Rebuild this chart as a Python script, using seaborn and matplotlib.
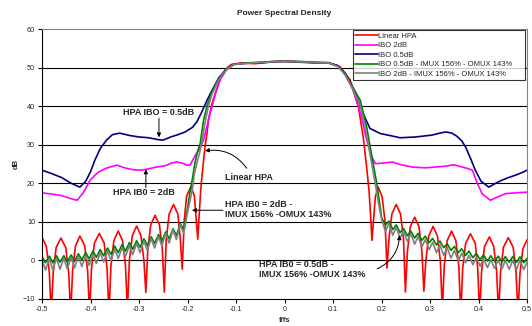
import pandas as pd
import seaborn as sns
import matplotlib.pyplot as plt

# Linear HPA (red) - sinc-like sidelobes
lin_f = [-0.500, -0.491, -0.485, -0.481,
         -0.477, -0.471, -0.461, -0.451, -0.445, -0.441,
         -0.437, -0.431, -0.422, -0.412, -0.406, -0.402,
         -0.398, -0.392, -0.382, -0.372, -0.366, -0.362,
         -0.358, -0.352, -0.343, -0.334, -0.328, -0.324,
         -0.320, -0.314, -0.305, -0.296, -0.290, -0.286,
         -0.282, -0.276, -0.267, -0.258, -0.252, -0.248,
         -0.244, -0.238, -0.229, -0.220, -0.215, -0.211,
         -0.207, -0.202, -0.193, -0.186, -0.182, -0.179,
         -0.176, -0.173, -0.171, -0.167, -0.164, -0.160, -0.157, -0.150,
         -0.143, -0.133, -0.123, -0.110, -0.090, -0.060, -0.030, 0.000,
         0.030, 0.060, 0.090, 0.114, 0.135, 0.152, 0.162, 0.169, 0.174,
         0.177, 0.180,
         0.183, 0.187, 0.193, 0.201, 0.207, 0.211,
         0.215, 0.221, 0.230, 0.239, 0.245, 0.249,
         0.253, 0.259, 0.268, 0.277, 0.283, 0.287,
         0.291, 0.297, 0.306, 0.315, 0.321, 0.325,
         0.329, 0.335, 0.344, 0.353, 0.359, 0.363,
         0.367, 0.373, 0.383, 0.393, 0.398, 0.402,
         0.406, 0.412, 0.422, 0.431, 0.437, 0.441,
         0.445, 0.451, 0.461, 0.471, 0.477, 0.481,
         0.485, 0.491, 0.500]
lin_db = [5.9, 3.6, -3.0, -14.0,
          -3.2, 3.3, 5.8, 3.3, -3.2, -14.0,
          -2.7, 3.8, 6.3, 3.8, -2.7, -14.0,
          -2.0, 4.5, 7.0, 4.5, -2.0, -14.0,
          -1.4, 5.1, 7.6, 5.1, -1.4, -13.0,
          -0.1, 6.4, 8.9, 6.4, -0.1, -8.3,
          2.7, 9.2, 11.7, 9.2, 2.7, -8.2,
          5.5, 12.0, 14.5, 12.0, 5.5, -2.3,
          10.2, 16.7, 19.2, 16.7, 10.2, 5.5,
          12.0, 18.0, 21.0, 26.0, 29.5, 33.0, 36.4, 40.5,
          43.3, 47.0, 49.4, 50.8, 51.2, 51.0, 51.5, 51.6,
          51.4, 51.2, 51.3, 50.2, 46.8, 39.8, 32.0, 24.2, 18.0,
          12.0, 5.2,
          10.0, 16.5, 19.0, 16.5, 10.0, -2.0,
          5.5, 12.0, 14.5, 12.0, 5.5, -8.2,
          2.2, 8.7, 11.2, 8.7, 2.2, -8.0,
          -0.2, 6.3, 8.8, 6.3, -0.2, -13.0,
          -1.4, 5.1, 7.6, 5.1, -1.4, -14.0,
          -2.1, 4.4, 6.9, 4.4, -2.1, -14.0,
          -2.9, 3.6, 6.1, 3.6, -2.9, -14.0,
          -3.1, 3.4, 5.9, 3.4, -3.1, -14.0,
          -3.5, 3.0, 5.4]

# IBO 2dB (magenta)
ibo2_f = [-0.500, -0.480, -0.460, -0.440, -0.428, -0.415, -0.401, -0.385, -0.370,
          -0.360, -0.346, -0.330, -0.312, -0.295, -0.282, -0.264, -0.245, -0.232,
          -0.222, -0.210, -0.202, -0.195, -0.185, -0.175, -0.167, -0.154, -0.143,
          -0.133, -0.120, -0.105, -0.080, -0.050, -0.020, 0.000, 0.030, 0.060,
          0.090, 0.110, 0.125, 0.140, 0.152, 0.160, 0.166, 0.173, 0.180, 0.187,
          0.200, 0.222, 0.240, 0.263, 0.290, 0.311, 0.330, 0.349, 0.366, 0.378,
          0.387, 0.397, 0.407, 0.424, 0.440, 0.455, 0.475, 0.500]
ibo2_db = [17.5, 17.2, 16.8, 16.0, 15.6, 17.5, 20.8, 22.8, 23.8,
           24.2, 24.7, 24.0, 23.5, 23.4, 23.7, 24.2, 24.6, 25.3,
           25.5, 25.2, 24.7, 24.7, 27.0, 29.0, 31.2, 38.0, 43.0,
           46.8, 49.4, 50.8, 51.1, 51.3, 51.6, 51.6, 51.5, 51.3,
           51.3, 50.5, 48.2, 44.5, 40.0, 36.5, 32.9, 29.5, 26.8, 25.1,
           25.2, 25.5, 24.8, 24.2, 24.0, 24.2, 24.4, 24.8, 24.2, 23.8,
           23.4, 20.0, 17.3, 15.6, 16.5, 17.3, 17.5, 17.7]

# IBO 0.5dB (navy)
ibo05_f = [-0.500, -0.480, -0.460, -0.440, -0.422, -0.410, -0.400, -0.391, -0.380,
           -0.367, -0.355, -0.340, -0.320, -0.300, -0.280, -0.260, -0.250, -0.235,
           -0.220, -0.205, -0.190, -0.181, -0.171, -0.160, -0.150, -0.135, -0.120,
           -0.105, -0.080, -0.050, -0.020, 0.000, 0.030, 0.060, 0.090, 0.110,
           0.125, 0.140, 0.152, 0.162, 0.176, 0.197, 0.220, 0.238, 0.270, 0.304,
           0.320, 0.332, 0.345, 0.355, 0.365, 0.373, 0.383, 0.393, 0.405, 0.421,
           0.435, 0.448, 0.462, 0.476, 0.490, 0.500]
ibo05_db = [23.4, 22.5, 21.5, 20.0, 19.0, 20.5, 23.0, 26.0, 29.0,
            31.2, 32.6, 33.0, 32.4, 32.0, 31.8, 31.3, 31.2, 32.0,
            32.6, 33.3, 34.5, 35.9, 38.4, 41.5, 44.0, 47.5, 49.5,
            50.9, 51.1, 51.2, 51.5, 51.6, 51.5, 51.3, 51.2, 50.5,
            48.5, 45.0, 41.5, 38.0, 34.2, 32.9, 32.3, 31.8, 32.0, 32.5,
            33.0, 33.3, 33.0, 32.2, 31.0, 29.4, 26.5, 23.4, 20.5, 19.0,
            20.0, 20.8, 21.5, 22.1, 22.8, 23.4]

# frequency bins of the rippled skirts of the filtered curves
skirt_left = [-0.500, -0.493, -0.485, -0.478, -0.470, -0.463, -0.455, -0.448,
              -0.440, -0.433, -0.425, -0.418, -0.410, -0.403, -0.395, -0.388,
              -0.380, -0.373, -0.365, -0.358, -0.350, -0.343, -0.335, -0.328,
              -0.320, -0.313, -0.305, -0.298, -0.290, -0.283, -0.275, -0.268,
              -0.260, -0.253, -0.245, -0.238, -0.230, -0.223, -0.215, -0.208,
              -0.200]
skirt_right = [0.200, 0.208, 0.215, 0.223, 0.230, 0.238, 0.245, 0.253,
               0.260, 0.268, 0.275, 0.283, 0.290, 0.298, 0.305, 0.313,
               0.320, 0.328, 0.335, 0.343, 0.350, 0.358, 0.365, 0.373,
               0.380, 0.388, 0.395, 0.403, 0.410, 0.418, 0.425, 0.433,
               0.440, 0.448, 0.455, 0.463, 0.470, 0.478, 0.485, 0.493,
               0.500]

# IBO 0.5dB - IMUX 156% - OMUX 143% (green)
g_left = [1.0, -0.6, 1.1, -0.6, 1.2, -0.5, 1.2, -0.4,
          1.4, -0.2, 1.7, 0.1, 2.0, 0.4, 2.4, 0.8,
          2.8, 1.2, 3.2, 1.6, 3.7, 2.0, 4.1, 2.4,
          4.6, 2.9, 5.1, 3.4, 5.6, 3.9, 6.1, 4.4,
          6.7, 5.0, 7.4, 5.6, 8.2, 6.5, 9.5, 8.0,
          13.5]
g_main_f = [-0.196, -0.191, -0.185, -0.180, -0.174, -0.167, -0.160, -0.154,
            -0.145, -0.133, -0.120, -0.105, -0.080, -0.050, -0.020, 0.000,
            0.030, 0.060, 0.090, 0.110, 0.125, 0.140, 0.156, 0.169, 0.180,
            0.190, 0.197]
g_main = [17.0, 20.5, 25.1, 28.0, 30.3, 36.4, 40.0, 42.4,
          45.0, 47.6, 49.5, 50.8, 51.2, 51.4, 51.6, 51.7,
          51.6, 51.4, 51.2, 50.3, 48.3, 45.0, 41.5, 34.6, 26.8,
          19.9, 13.8]
g_right = [11.0, 9.2, 10.2, 8.0, 9.2, 7.2, 8.3, 6.4,
           7.6, 5.8, 7.0, 5.2, 6.3, 4.6, 5.7, 4.0,
           5.0, 3.3, 4.3, 2.6, 3.6, 2.0, 3.0, 1.3,
           2.4, 0.7, 1.8, 0.2, 1.4, -0.2, 1.2, -0.3,
           1.1, -0.4, 1.0, -0.5, 1.0, -0.5, 0.9, -0.6,
           0.6]

# IBO 2dB - IMUX 156% - OMUX 143% (grey)
k_left = [0.3, -2.5, 0.4, -2.4, 0.5, -2.3, 0.5, -2.2,
          0.8, -1.9, 1.1, -1.6, 1.2, -1.3, 1.6, -0.8,
          2.0, -0.4, 2.4, 0.0, 2.9, 0.5, 3.4, 1.0,
          3.9, 1.5, 4.4, 2.0, 5.0, 2.6, 5.6, 3.2,
          6.2, 3.8, 7.0, 4.5, 7.9, 5.4, 9.2, 7.0,
          12.5]
k_main_f = [-0.195, -0.190, -0.186, -0.181, -0.176, -0.171, -0.165, -0.158,
            -0.150, -0.135, -0.120, -0.105, -0.080, -0.050, -0.020, 0.000,
            0.030, 0.060, 0.090, 0.110, 0.125, 0.140, 0.155, 0.166, 0.176,
            0.186, 0.194]
k_main = [15.5, 18.5, 22.5, 25.1, 27.5, 30.3, 35.0, 39.5,
          43.0, 47.0, 49.4, 50.8, 51.1, 51.3, 51.5, 51.6,
          51.5, 51.3, 51.2, 50.3, 48.0, 44.5, 40.5, 34.6, 27.5,
          20.5, 14.5]
k_right = [10.5, 7.5, 9.6, 6.5, 8.6, 5.7, 7.7, 4.9,
           6.9, 4.2, 6.2, 3.5, 5.4, 2.8, 4.7, 2.0,
           4.0, 1.3, 3.3, 0.6, 2.6, -0.1, 1.9, -0.6,
           1.3, -1.1, 0.8, -1.5, 0.4, -1.9, 0.2, -2.1,
           0.1, -2.2, 0.0, -2.3, 0.0, -2.3, 0.0, -2.4,
           -0.3]

names = ['Linear HPA', 'IBO 2dB', 'IBO 0.5dB',
         'IBO 0.5dB - IMUX 156% - OMUX 143%',
         'IBO 2dB - IMUX 156% - OMUX 143%']
colors = dict(zip(names, ['#ff0000', '#ff00ff', '#000080', '#008000', '#808080']))

series = {
    names[0]: (lin_f, lin_db),
    names[1]: (ibo2_f, ibo2_db),
    names[2]: (ibo05_f, ibo05_db),
    names[3]: (skirt_left + g_main_f + skirt_right, g_left + g_main + g_right),
    names[4]: (skirt_left + k_main_f + skirt_right, k_left + k_main + k_right),
}
frames = [pd.DataFrame({'f/fs': f, 'dB': v, 'Series': n}) for n, (f, v) in series.items()]
data = pd.concat(frames, ignore_index=True)

sns.set_style('white')
plt.rcParams['font.family'] = ['Liberation Sans', 'DejaVu Sans']

fig = plt.figure(figsize=(5.32, 3.26), dpi=100)
ax = fig.add_axes([0.079, 0.083, 0.912, 0.828])

sns.lineplot(data=data, x='f/fs', y='dB', hue='Series', hue_order=names,
             palette=colors, estimator=None, sort=False, linewidth=1.2, ax=ax)

ax.set_xlim(-0.5, 0.5)
ax.set_ylim(-10, 60)
ax.set_xticks([-0.5, -0.4, -0.3, -0.2, -0.1, 0, 0.1, 0.2, 0.3, 0.4, 0.5])
ax.set_xticklabels(['-0.5', '-0.4', '-0.3', '-0.2', '-0.1', '0', '0.1', '0.2', '0.3', '0.4', '0.5'])
ax.set_yticks(range(-10, 61, 10))
ax.tick_params(labelsize=5.2, length=3, width=0.8, direction='out', color='black', pad=2)
ax.tick_params(axis='x', bottom=True)
ax.tick_params(axis='y', left=True)
for y in range(0, 60, 10):
    ax.axhline(y, color='black', lw=0.8, zorder=0)
for s in ['top', 'right']:
    ax.spines[s].set_color('#808080')
    ax.spines[s].set_linewidth(0.8)
for s in ['left', 'bottom']:
    ax.spines[s].set_color('black')
    ax.spines[s].set_linewidth(0.8)

ax.set_title('Power Spectral Density', fontsize=6, fontweight='bold', pad=10)
ax.set_xlabel('f/fs', fontsize=5.5, fontweight='bold', labelpad=3)
ax.set_ylabel('dB', fontsize=5.5, fontweight='bold', labelpad=2)

handles, labels = ax.get_legend_handles_labels()
leg = ax.legend(handles, labels, loc='upper left', bbox_to_anchor=(0.641, 0.0, 0.355, 0.996),
                mode='expand', fontsize=5.5, frameon=True, fancybox=False, borderaxespad=0,
                handlelength=3.0, handletextpad=0.0, labelspacing=0.28, borderpad=0.3)
leg.get_frame().set_edgecolor('black')
leg.get_frame().set_linewidth(0.8)

arrow = dict(arrowstyle='-|>', color='black', lw=0.7, mutation_scale=6, shrinkA=0, shrinkB=0)
ax.text(-0.26, 38.3, 'HPA IBO = 0.5dB', fontsize=6.5, fontweight='bold', ha='center', va='center')
ax.annotate('', xy=(-0.259, 31.9), xytext=(-0.259, 36.8), arrowprops=arrow)

ax.text(-0.122, 21.6, 'Linear HPA', fontsize=6.5, fontweight='bold', ha='left', va='center')
ax.annotate('', xy=(-0.164, 28.4), xytext=(-0.078, 23.9),
            arrowprops=dict(arrow, connectionstyle='arc3,rad=0.3'))

ax.text(-0.291, 17.7, 'HPA IB0 = 2dB', fontsize=6.5, fontweight='bold', ha='center', va='center')
ax.annotate('', xy=(-0.286, 23.6), xytext=(-0.286, 18.9), arrowprops=arrow)

ax.text(-0.1227, 13.2, 'HPA IB0 = 2dB -\nIMUX 156% -OMUX 143%', fontsize=6.5,
        fontweight='bold', ha='left', va='center', linespacing=1.15)
ax.annotate('', xy=(-0.191, 13.0), xytext=(-0.127, 13.0), arrowprops=arrow)

ax.text(-0.053, -2.3, 'HPA IB0 = 0.5dB -\nIMUX 156% -OMUX 143%', fontsize=6.5,
        fontweight='bold', ha='left', va='center', linespacing=1.15)
ax.annotate('', xy=(0.2367, 6.5), xytext=(0.1907, -2.2),
            arrowprops=dict(arrow, connectionstyle='arc3,rad=0.3'))

fig.savefig('out.png', dpi=100)
